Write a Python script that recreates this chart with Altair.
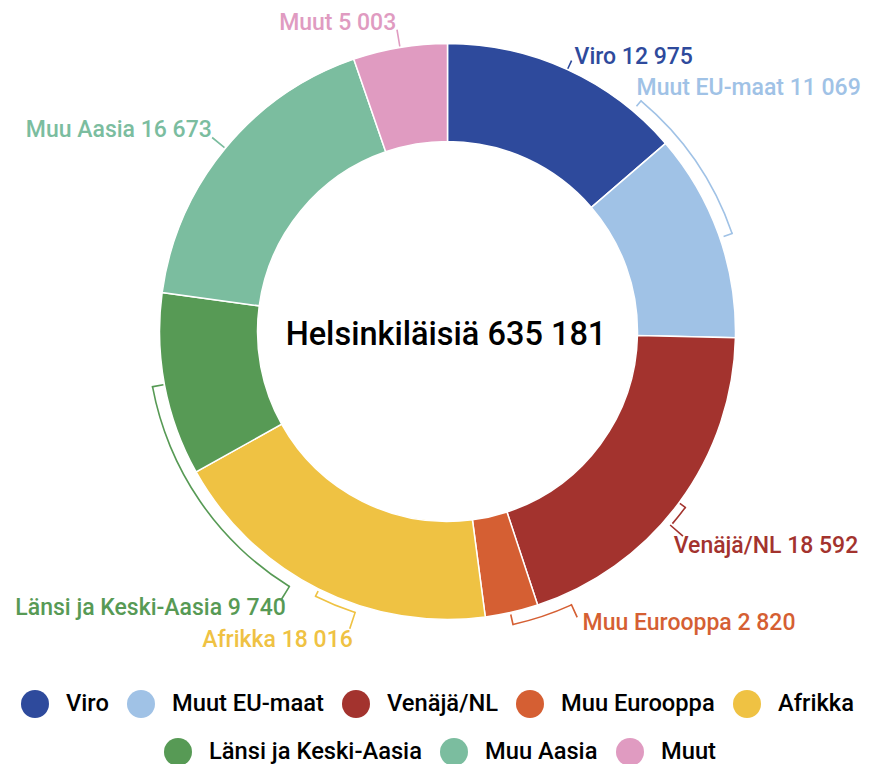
import math
import altair as alt
import pandas as pd

# ---- data ----
categories = ["Viro", "Muut EU-maat", "Venäjä/NL", "Muu Eurooppa", "Afrikka",
              "Länsi ja Keski-Aasia", "Muu Aasia", "Muut"]
counts = [12975, 11069, 18592, 2820, 18016, 9740, 16673, 5003]
population_total = 635181
center_title = "Helsinkiläisiä"

# ---- style ----
palette = ["#2e4a9c", "#a0c2e6", "#a3332e", "#d55f33", "#efc243",
           "#579a55", "#7bbd9f", "#e09bc1"]
FONT = "Roboto"
CX, CY = 439.5, 323.5
R_OUT, R_IN = 288, 190
LW = 1.6


def fmt(n):
    return f"{n:,}".replace(",", " ")


df = pd.DataFrame({
    "cat": categories,
    "value": counts,
    "order": list(range(len(categories))),
    "label": [f"{c} {fmt(v)}" for c, v in zip(categories, counts)],
})

theta_scale = alt.Scale(domain=[0, 1], range=[0, 2 * math.pi])

base = (
    alt.Chart(df)
    .transform_joinaggregate(total="sum(value)")
    .transform_window(cum="sum(value)", sort=[alt.SortField("order")], frame=[None, 0])
    .transform_calculate(
        t0="(datum.cum - datum.value) / datum.total",
        t1="datum.cum / datum.total",
        tm="(datum.cum - datum.value / 2) / datum.total",
    )
)

row1, row2 = categories[:5], categories[5:]


def legend(x, y):
    return alt.Legend(
        orient="none", legendX=x, legendY=y, direction="horizontal", title=None,
        symbolType="circle", symbolSize=784, symbolStrokeWidth=0, symbolOpacity=1,
        labelFont=FONT, labelFontSize=23.7, labelFontWeight=500, labelColor="black",
        labelOffset=17, columnPadding=18, labelLimit=400,
    )


arcs_a = base.transform_filter(
    alt.FieldOneOfPredicate(field="cat", oneOf=row1)
).mark_arc(radius=R_OUT, radius2=R_IN, stroke="white", strokeWidth=1.5).encode(
    x=alt.value(CX), y=alt.value(CY),
    theta=alt.Theta("t0:Q", scale=theta_scale, stack=False),
    theta2="t1:Q",
    color=alt.Color("cat:N", scale=alt.Scale(domain=row1, range=palette[:5]),
                    sort=row1, legend=legend(13, 682)),
)

arcs_b = base.transform_filter(
    alt.FieldOneOfPredicate(field="cat", oneOf=row2)
).mark_arc(radius=R_OUT, radius2=R_IN, stroke="white", strokeWidth=1.5).encode(
    x=alt.value(CX), y=alt.value(CY),
    theta=alt.Theta("t0:Q", scale=theta_scale, stack=False),
    theta2="t1:Q",
    fill=alt.Fill("cat:N", scale=alt.Scale(domain=row2, range=palette[5:]),
                  sort=row2, legend=legend(156, 730)),
)

# label placement (align, dx, dy) per category
label_style = {
    "Viro": ("left", 0, 10),
    "Muut EU-maat": ("left", -98, -133),
    "Venäjä/NL": ("left", -19, 40),
    "Muu Eurooppa": ("left", 67, 1),
    "Afrikka": ("right", 42, 43),
    "Länsi ja Keski-Aasia": ("right", 138, 227),
    "Muu Aasia": ("right", 0, -1),
    "Muut": ("right", -1, -1),
}

labels = []
for i, cat in enumerate(categories):
    al, dx, dy = label_style[cat]
    labels.append(
        base.transform_filter(alt.datum.cat == cat)
        .mark_text(radius=305, align=al, baseline="alphabetic", dx=dx, dy=dy,
                   font=FONT, fontSize=23, fontWeight=500, color=palette[i])
        .encode(x=alt.value(CX), y=alt.value(CY),
                theta=alt.Theta("tm:Q", scale=theta_scale, stack=False),
                text="label:N")
    )


# ---- leader lines / brackets (decorations) ----
def deco(a0, a1, r0, r1, col):
    return alt.Chart(alt.Data(values=[{"k": 0}])).mark_arc(
        theta=a0, theta2=a1, radius=r1, radius2=r0, color=col
    ).encode(x=alt.value(CX), y=alt.value(CY))


def tick(deg, r0, r1, col):
    a = math.radians(deg)
    h = LW / 2 / ((r0 + r1) / 2)
    return deco(a - h, a + h, r0, r1, col)


def band(d0, d1, r, col):
    return deco(math.radians(d0), math.radians(d1), r - LW / 2, r + LW / 2, col)


decos = [
    tick(24.6, 289, 298, palette[0]),
    band(40, 71, 301, palette[1]), tick(40, 294, 301.8, palette[1]), tick(71, 292, 301.8, palette[1]),
    tick(126.5, 289, 296.6, palette[2]), band(126.5, 130.5, 295.8, palette[2]), tick(131, 295, 312, palette[2]),
    tick(167.4, 290, 301, palette[3]), band(155.6, 167.4, 300.2, palette[3]), tick(155.6, 299.4, 314, palette[3]),
    tick(206.5, 290, 296.6, palette[4]), band(198.2, 206.5, 295.8, palette[4]), tick(198.2, 295, 313, palette[4]),
    tick(259.4, 289, 300.9, palette[5]), band(211.8, 259.4, 300.1, palette[5]), tick(211.8, 299.3, 315, palette[5]),
    tick(309.5, 289, 305, palette[6]),
    tick(350.5, 289, 306, palette[7]),
]

center = alt.Chart(
    pd.DataFrame({"t": [f"{center_title} {fmt(population_total)}"]})
).mark_text(font=FONT, fontSize=32.5, fontWeight=500, color="black",
            baseline="alphabetic", align="center").encode(
    x=alt.value(CX - 1.5), y=alt.value(337), text="t:N"
)

chart = alt.layer(arcs_a, arcs_b, *decos, *labels, center).properties(
    width=854, height=756, padding=0, background="white",
    autosize=alt.AutoSizeParams(type="none"),
).configure_view(stroke=None)

chart.save("out.html", embed_options={"renderer": "svg", "actions": False})
